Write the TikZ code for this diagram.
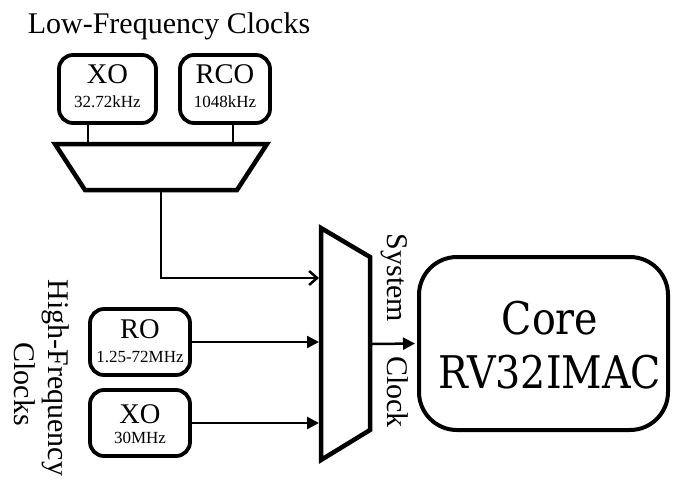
\documentclass[tikz,border=0pt]{standalone}
\usepackage{fontspec}
\setmainfont{Liberation Serif}
\newfontfamily\corefont[FakeStretch=0.88]{DejaVu Serif}
\usetikzlibrary{arrows.meta}
\begin{document}
\begin{tikzpicture}[x=1pt,y=-1pt,
  box/.style={draw, line width=3.8pt, rounded corners=14pt, inner sep=0pt},
  muxline/.style={draw, line width=4.5pt, line join=miter},
  wire/.style={line width=2.5pt},
  bigt/.style={font=\fontsize{28.5}{28.5}\selectfont, anchor=base, inner sep=0pt},
  smallt/.style={font=\fontsize{17}{17}\selectfont, anchor=base, inner sep=0pt},
  lbl/.style={font=\fontsize{30}{30}\selectfont, anchor=base, inner sep=0pt},
  coret/.style={font=\corefont\fontsize{45}{45}\selectfont, anchor=base, inner sep=0pt},
  filltip/.style={-{Triangle[length=12pt,width=12pt]}},
  opentip/.style={-{Straight Barb[length=8pt,width=14pt]}},
]
\useasboundingbox (0,0) rectangle (673,483);

% title
\node[lbl] (title) at (169,33) {Low-Frequency Clocks};

% low-frequency oscillators
\node[box, minimum width=97pt, minimum height=68pt] (xo1) at (107.5,89) {};
\node[bigt] (xo1t) at (107.5,83) {XO};
\node[smallt] (xo1f) at (107.5,107) {32.72kHz};
\node[box, minimum width=90pt, minimum height=68pt] (rco) at (225,89) {};
\node[bigt] (rcot) at (225,83) {RCO};
\node[smallt] (rcof) at (225,107) {1048kHz};

% low-frequency mux
\coordinate (tm1) at (55,144);
\coordinate (tm2) at (267,144);
\coordinate (tm3) at (237,190);
\coordinate (tm4) at (85,190);
\coordinate (lfin1) at (88,144);
\coordinate (lfin2) at (233,144);
\coordinate (lfout) at (161,190);
\draw[muxline] (tm1) -- (tm2) -- (tm3) -- (tm4) -- cycle;
\draw[wire] (xo1.south -| lfin1) -- (lfin1);
\draw[wire] (rco.south -| lfin2) -- (lfin2);

% high-frequency oscillators
\node[box, minimum width=100pt, minimum height=66pt] (ro) at (140,342) {};
\node[bigt] (rot) at (140,338) {RO};
\node[smallt] (rof) at (140,362) {1.25-72MHz};
\node[box, minimum width=100pt, minimum height=66pt] (xo2) at (140,423) {};
\node[bigt] (xo2t) at (140,423) {XO};
\node[smallt] (xo2f) at (140,443) {30MHz};

\node[lbl, rotate=-90] (hf1) at (48,378) {High-Frequency};
\node[lbl, rotate=-90] (hf2) at (15,384) {Clocks};

% system mux
\coordinate (bm1) at (321,228);
\coordinate (bm2) at (370,257);
\coordinate (bm3) at (370,430);
\coordinate (bm4) at (321,460);
\coordinate (bin1) at (319,278);
\coordinate (bout) at (372,344);
\draw[muxline] (bm1) -- (bm2) -- (bm3) -- (bm4) -- cycle;

\draw[wire, opentip] (lfout) |- (bin1);
\draw[wire, filltip] (ro.east) -- (ro.east -| bin1);
\draw[wire, filltip] (xo2.east) -- (xo2.east -| bin1);

% core
\node[box, line width=4pt, rounded corners=38pt, minimum width=249pt, minimum height=173pt] (core) at (543.5,343.5) {};
\node[coret] (coret1) at (550,334) {Core};
\node[coret] (coret2) at (550,388) {RV32IMAC};
\draw[wire, filltip, shorten >=2pt] (bout) -- (core.west);

\node[lbl, rotate=-90] (sys) at (387,278) {System};
\node[lbl, rotate=-90] (clk) at (387,392) {Clock};
\end{tikzpicture}
\end{document}
